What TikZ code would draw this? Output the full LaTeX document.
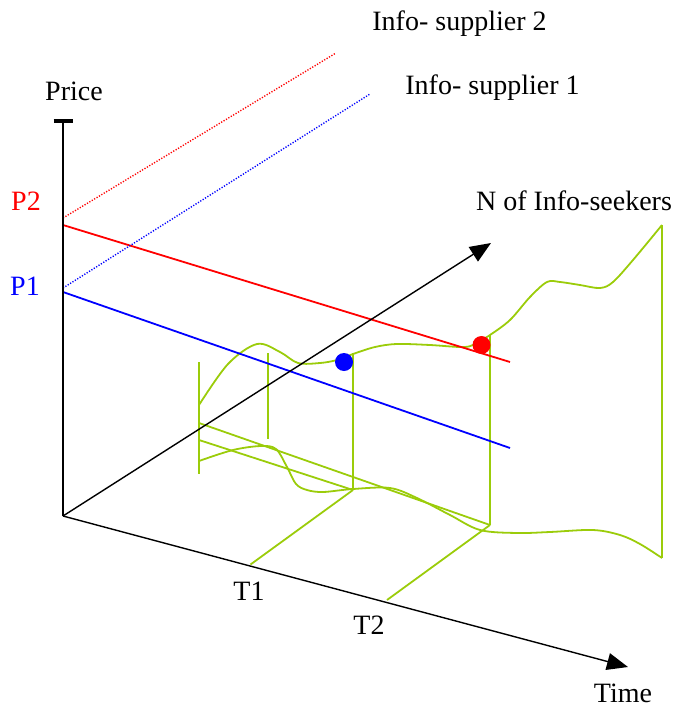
\documentclass[tikz,border=0pt]{standalone}
\usepackage{fontspec}
\setmainfont{Liberation Serif}
\usetikzlibrary{arrows.meta}
\definecolor{grn}{RGB}{155,204,10}
\definecolor{myred}{RGB}{255,0,0}
\definecolor{myblue}{RGB}{0,0,255}
\begin{document}
\begin{tikzpicture}[x=1pt,y=-1pt,
  axisline/.style={line width=1.4pt,black},
  lbl/.style={font=\fontsize{28}{30}\selectfont,inner sep=0pt,anchor=base},
  gline/.style={grn,line width=1.8pt},
  cline/.style={line width=1.8pt},
  dotline/.style={line width=1.4pt,dash pattern=on 1.2pt off 1.6pt},
  bigtip/.style={-{Triangle[length=21pt,width=17pt]}}]
\useasboundingbox (0,0) rectangle (675,709);

% coordinates
\coordinate (O) at (63,516);
\coordinate (Ptop) at (63,119);
\coordinate (Tend) at (628,667);
\coordinate (Nend) at (491,243);
\coordinate (P2) at (63,225);
\coordinate (P2d) at (63,218);
\coordinate (P1) at (63,292);
\coordinate (P1d) at (63,288);
\coordinate (R2) at (510,362);
\coordinate (R1) at (510,448);
\coordinate (D2) at (336,53);
\coordinate (D1) at (370,94);
\coordinate (T1a) at (250.5,564.5);
\coordinate (T1b) at (353,490);
\coordinate (T2a) at (387,600);
\coordinate (T2b) at (490,525);
\coordinate (T1top) at (353,353);
\coordinate (T2top) at (490,335);
\coordinate (Rtop) at (662,225);
\coordinate (Rbot) at (662,558);
\coordinate (L1top) at (199,362);
\coordinate (L1bot) at (199,474);
\coordinate (L2top) at (267.7,353);
\coordinate (L2bot) at (267.7,439);
\coordinate (S1a) at (199,423);
\coordinate (S2a) at (199,440);

% green structure
\draw[gline] (L1top) -- (L1bot);
\draw[gline] (L2top) -- (L2bot);
\draw[gline] (T1top) -- (T1b);
\draw[gline] (T2top) -- (T2b);
\draw[gline] (Rtop) -- (Rbot);
\draw[gline] (T1a) -- (T1b);
\draw[gline] (T2a) -- (T2b);
\draw[gline] (S1a) -- (T2b);
\draw[gline] (S2a) -- (T1b);
\draw[gline] plot[smooth,tension=0.55] coordinates {
  (199,405) (228,364) (257,344) (280,352) (298,363) (320,363) (337,360)
  (353,354) (375,347) (397,344) (430,345) (465,347) (478,342) (490,335)
  (510,320) (530,297) (547,282) (560,282) (580,285) (600,288) (613,282)
  (633,260) (662,225)};
\draw[gline] plot[smooth,tension=0.55] coordinates {
  (199,461) (233,450) (261,446) (276,449) (287,467) (296,484) (307,490)
  (323,492) (353,489) (390,488) (417,498) (450,515) (480,530) (517,533)
  (550,532) (593,530) (620,535) (640,544) (662,558)};

% price lines
\draw[cline,myred] (P2) -- (R2);
\draw[cline,myblue] (P1) -- (R1);
\draw[dotline,myred] (P2d) -- (D2);
\draw[dotline,myblue] (P1d) -- (D1);

% dots
\fill[myblue] (344,362) circle (9pt);
\fill[myred] (481.5,345) circle (9pt);

% axes
\draw[axisline,-{Bar[width=19pt,line width=3.5pt]}] (O) -- (Ptop);
\draw[line width=2.3pt] (63,122) -- (63,173);
\draw[line width=2.3pt] (63,224) -- (63,258);
\draw[axisline,bigtip] (O) -- (Tend);
\draw[axisline,bigtip] (O) -- (Nend);

% labels
\node[lbl] (price) at (74,100) {Price};
\node[lbl,text=myred] (p2lbl) at (26,210) {P2};
\node[lbl,text=myblue] (p1lbl) at (25,295) {P1};
\node[lbl] (is2) at (459.5,31) {Info- supplier 2};
\node[lbl] (is1) at (492.5,94) {Info- supplier 1};
\node[lbl] (nlbl) at (574,210) {N of Info-seekers};
\node[lbl] (t1lbl) at (249,600) {T1};
\node[lbl] (t2lbl) at (369,634) {T2};
\node[lbl] (timelbl) at (623,702) {Time};
\end{tikzpicture}
\end{document}
